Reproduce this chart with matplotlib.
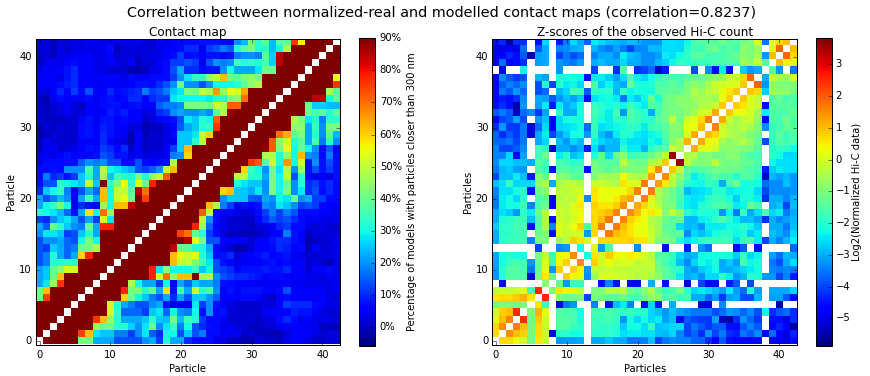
import numpy as np
import matplotlib
matplotlib.use("Agg")
import matplotlib.pyplot as plt

nan = float("nan")

# Both maps are symmetric, so only the part above the diagonal is kept.
# Row r holds the cells of columns r+1 to 42.
contactRows = [
    [90]*5 + [42,42,22,22,22,14,14,14,14,20,22,12,32,22,22,10] + [8,7,7,3,3,0,0,-2,-1,2,1,1,0,3,5,5,3,0,1,2,3],
    [90]*4 + [75,62,28,25,25,18,18,12,20,28,15,10,30,30,14,25] + [14,18,7,7,4,4,4,0,2,0,0,-1,-1,2,6,6,5,3,1,2,2],
    [90]*5 + [46,40,40,32,32,26,20,28,40,20,28,34,18,30] + [14,10,8,7,3,4,2,2,0,0,1,1,4,6,5,5,4,4,0,0,-1],
    [90]*4 + [76,62,45,32,22,22,22,25,33,25,24,42,24,34] + [32,12,7,7,6,1,1,1,2,0,2,3,7,10,7,3,5,3,3,3,2],
    [90]*5 + [52,33,16,16,16,12,25,28,16,30,20,18] + [30,8,20,7,8,2,1,1,1,1,4,6,5,5,9,8,8,5,3,1,1],
    [90]*4 + [52,32,22,18,14,14,20,22,8,3,4,6] + [28,12,20,8,6,3,1,1,1,1,2,2,6,12,10,10,10,7,4,3,3],
    [90]*5 + [60,40,30,25,18,14,22,10,22,14] + [25,25,20,15,6,6,5,7,7,6,2,0,6,7,5,6,5,4,5,3,2],
    [90]*4 + [78,42,42,32,40,22,58,8,35,22] + [50,32,36,20,6,8,6,8,8,8,6,6,7,14,6,6,5,5,5,3,4],
    [90]*4 + [48,30,22,22,12,30,4,22,16] + [25,22,22,18,8,7,6,6,5,4,4,4,4,6,4,4,3,3,3,3,4],
    [90]*6 + [78,52,70,45,62,62] + [90,46,48,20,14,12,10,10,9,8,6,7,7,6,4,5,3,3,3,4,3],
    [90]*5 + [78,28,45,30,30,30] + [34,25,30,14,12,10,6,8,8,8,9,8,8,10,6,5,1,6,6,7,4],
    [90]*7 + [62,50,50] + [42,35,28,14,8,6,3,6,6,6,7,8,6,7,4,6,1,3,1,-1,3],
    [90]*6 + [62,55,50] + [55,32,25,7,8,10,2,4,5,7,9,6,7,8,4,3,1,1,2,2,3],
    [90]*5 + [85,40,38] + [32,30,22,7,3,1,-2,-1,2,5,6,7,10,9,6,7,-1,5,2,2,3],
    [90]*6 + [85] + [55,42,14,14,6,6,6,5,2,5,6,8,10,10,8,6,-2,0,1,2,4],
    [90]*4 + [75,70] + [40,32,12,7,2,0,0,-1,-1,0,2,5,5,18,8,5,0,2,2,2,2],
    [90]*5 + [78,45,15,5,3,1,1,1,0,2,3,5,10,12,7,7,3,1,3,1,1],
    [90]*4 + [90,50,20,7,3,1,1,1,0,6,10,15,12,14,10,7,4,5,3,3,4],
    [90]*3 + [90,72,50,8,4,5,3,2,3,7,12,18,12,18,14,7,7,7,5,6,3],
    [90]*2 + [90,90,62,48,18,12,3,7,6,8,20,18,28,25,20,12,14,12,7,6,5],
    [90]*1 + [90,90,90,90,20,25,25,25,15,14,22,20,30,28,40,20,22,12,12,7,7],
    [90,90,90,90,60,62,25,25,22,28,20,42,30,42,20,28,10,14,7,10,7],
    [90]*5 + [32,28,25,25,20,42,30,40,20,32,10,12,8,10,7],
    [90]*4 + [50,50,32,32,22,42,30,50,14,32,7,3,6,3,8],
    [90]*4 + [60,34,30,20,40,28,48,20,45,8,14,8,12,8],
    [90]*4 + [76,72,38,52,32,66,30,50,8,20,8,14,8],
    [90]*5 + [48,48,32,45,30,62,20,18,7,18,7],
    [90]*4 + [88,72,42,55,30,40,30,20,8,15,6],
    [90]*4 + [72,44,52,32,38,22,36,18,32,20],
    [90]*4 + [70,64,38,42,22,32,20,38,24],
    [90]*5 + [44,44,22,34,20,42,42],
    [90]*4 + [48,42,28,32,18,32,32],
    [90]*5 + [40,36,38,32,38],
    [90]*4 + [40,26,26,24,24],
    [90]*4 + [85,85,30,38],
    [90]*5 + [48,38],
    [90]*5 + [76],
    [90]*4 + [55],
    [90]*4,
    [90]*3,
    [90]*2,
    [90],
]

zscoreRows = [
    [.7,.7,.2,-.1,-1.2,.6,-.2,nan,-3.2,-3.1,-3.1,-3,nan,-3,-3,-2.7,-3,-3,-3.5,-3.5,-3.4] + [-2.8,-4,-3.5,-3.3,-3.4,-3.4,-3.7,-3.7,-4.2,-4.7,-3.8,-4.5,-4.6,-4.6,-4.6,-4.6,nan,-5,-4.7,-5,-4.5],
    [1.5,1,.8,-1,.7,-.1,-4.6,-2,-2,-2.2,-2.2,nan,-2,-2,-1.9,-2.1,-2.5,-2.4,-2.4,-2.5] + [-2.5,-2.8,-2.9,-2.6,-3.4,-4,-3.7,-4.2,-3.2,-4,-3.5,-4.2,-4.4,-3.5,-3.8,-3.3,-4.8,-3.6,-4.8,-5,-4.3],
    [1.6,1,-1.1,.7,-.2,nan,-1.5,-1.5,-1.8,-2,nan,-1.8,-1.9,-1.9,-2,-2.7,-2.2,-2.2,-2.5] + [-1.8,-2.8,-2.7,-2.6,-2.6,-4,-3.5,-3.8,-4.1,-3.8,-3.8,-4.5,-4.5,-3.8,-3.4,-3.8,nan,-4.7,-4.3,-4.7,-5.6],
    [2.5,-1.2,.9,-.1,nan,-1.5,-1.5,-1.6,-2.2,nan,-1.8,-1.8,-1.7,-1.8,-3.2,-2.2,-2.6,-2.2] + [-2.6,-2.4,-3.1,-2.8,-4.7,-3.8,-4,-4.1,-4.1,-3.1,-5.3,-5.5,-4.2,-3.2,-3.7,-4.1,nan,-4.5,-4.5,-5,-4.2],
    [-1,1.1,.2,nan,-1.5,-1.6,-1.7,-2.2,nan,-1.7,-1.7,-1.6,-1.8,-1.9,-1.8,-2,-2] + [-2.6,-2.8,-3.2,-2.8,-3.1,-3.3,-3.5,-3.5,-3.5,-3.9,-3.6,-3.2,-3.3,-3.7,-3.3,-3.9,-2.3,-4.2,-3.8,-3.6,-4.2],
    [.6,-1.8,nan,-5,-3.5,-3.2,nan,nan,-3.4,nan,-4.5,-2.8,-2.4,-3.4,nan,-4.5] + [-2.6,-4.4,nan,-3,nan,nan,nan,-5,-5,nan,-3.3,nan,nan,nan,nan,nan,nan,nan,-5.5,nan,nan],
    [2.5,nan,-1,-1.2,-1.2,-1,-4,-1,-1.2,-1.4,-1.5,-1.2,-1.6,-1.6,-1.2] + [-.8,-.9,-1.6,-1.4,-1.8,-1.7,-3,-3,-3.6,-3.2,-4.1,-3.1,-3,-3.9,-3.9,-2.9,nan,-3.1,-3.1,-3.8,-4.5],
    [-.9,.6,.2,.1,-.2,nan,-1,-1,-.4,-.4,-.3,-1.2,-1.4,-.9] + [-.4,-1.3,-1.8,-1.7,-1.1,-2,-2.6,-2.4,-2.6,-2.8,-3.1,-2.4,-3.1,-3.6,-2.1,-3.1,nan,-3,-3,-3,-2.6],
    [-1.3,-3.2,-1.8,-1.8,nan,nan,-4.5,-3.4,-4.5,nan,-4.6,-4.6,nan] + [-3,nan,-4.5,nan,nan,-5.2,nan,-4,-4.6,-4.6,nan,-4.4,-3.8,nan,-4,nan,nan,nan,nan,nan,nan],
    [.8,.4,.2,-3.3,-.7,.1,.1,0,-.1,-.2,-.4,-.2] + [-.5,-.8,-1.4,-1.6,-2.4,-3,-2.8,-3.2,-2.6,-2.6,-2,-2.4,-3.2,-2.9,-2,-2.1,-3.2,-3.2,-4,-3.4,-4.4],
    [.8,.4,-3.2,-.2,-.2,-.1,-.2,-.2,-.3,-.2,-.3] + [-.2,-1,-1.4,-1.8,-2,-3,-3.2,-2.7,-2.5,-2.2,-3,-3,-2.8,-2.6,-2.4,-2.2,nan,-3.4,-3.5,-3.3,-3.5],
    [1.5,nan,.8,0,.3,0,.1,.1,-.3,-.1] + [-.2,-1.3,-1.7,-2,-2.8,-3.3,-2.6,-2.2,-2.4,-2.1,-3,-2.7,-3.1,-1.7,-2.3,-2.1,nan,-3.5,-3.9,-3,-2.5],
    [-2.2,.6,0,.8,.4,.2,.5,.4,0] + [-.4,-1.5,-1.5,-1.9,-2.6,-3,-2.9,-2.2,-2.2,-2.2,-2.1,-2.2,-2.7,-1.8,-2.6,-2.3,nan,-3.1,-3.6,-2.9,-3],
    [.1,-3.2,-1.6,nan,nan,nan,-3.3,nan] + [nan,nan,-4.5,nan,nan,-4.4,nan,-3.2,-3.6,nan,nan,nan,-4.5,-3.8,nan,-4.5,nan,nan,nan,nan,-3.7],
    [.7,.7,.7,.7,.8,.6,.6] + [-.1,-1,-1,-1.1,-2.1,-2.5,-2.3,-1.9,-1.8,-1.8,-1.7,-1.8,-2.5,-1.8,-1.6,-2.4,-4,-3,-3.4,-2.9,-2.4],
    [1.7,1,.8,.6,.3,.3] + [-.1,-.6,-1.2,-1.4,-1.3,-3.3,-2.6,-2.8,-2.5,-2.2,-2,-2,-2.3,-2.1,-2.7,-2.4,nan,-2.8,-3,-3.3,-2.6],
    [1.7,1,.6,.3,.3] + [-.3,-.6,-1.4,-1.4,-2.6,-2.9,-2.8,-3.2,-2.4,-2.4,-2.4,-2.2,-2.2,-2,-2.3,-2.7,nan,-3,-3,-3.5,-2.8],
    [1.6,.8,.5,.3] + [-.4,-.6,-1.2,-1.4,-1.2,-2.9,-2.9,-2.4,-2.3,-1.9,-1.6,-2,-2.4,-2.9,-2.8,-3.1,-4.2,-3,-3.3,-3.1,-2.9],
    [1.5,1,.3] + [.6,.3,-.9,-.2,-.8,-1.9,-2.3,-2,-2.1,-2.1,-3.2,-2.3,-3.5,-1.8,-3,-2.5,-1.5,-2.6,-2.4,-3.5,-3],
    [1.2,.7] + [.1,-.3,-1,-1,-1.8,-2.4,-2.5,-2.1,-1.9,-1.6,-1.5,-1.7,-2.4,-2.3,-1.2,-1.7,nan,-3,-2.8,-4,-2.8],
    [1.6] + [.1,-.5,-1,-1.2,-1.7,-2.4,-2.5,-2.4,-2,-1.8,-1.8,-2.2,-2.7,-2.1,-2.1,-2.4,-4.2,-3,-3,-3.4,-2.9],
    [1.7,-.4,-.9,-1.2,-1.6,-2.9,-2.6,-2.5,-2.4,-2,-2,-2.4,-2.3,-2.2,-2.2,-2.6,-4,-3.3,-3.3,-3.3,-3.2],
    [1.3,.5,-.4,-1.2,-2,-2.2,-2.3,-1.8,-2,-3,-1.6,-1.2,-2.2,-2.1,-2.2,-3.6,-3.3,-3.3,-2.8,-3.2],
    [1.5,-.2,-.8,-1.6,-2.4,-2.1,-1.7,-1.4,-1.7,-1.6,-2.1,-1.5,-1.5,-2,-5.2,-2.9,-3.1,-2.9,-3.2],
    [.9,-.2,-1.4,-1.7,-1.5,-1.4,-1.2,-1.1,-1.2,-1.2,-1.4,-1.6,-1.7,-4.4,-2.7,-2.4,-2.5,-2.5],
    [3.6,-.2,-.9,-1,-.9,-.3,-1,-1.1,-1,-1.3,-1.3,-1.6,nan,-2.3,-2.5,-2.5,-2.5],
    [-.4,-.4,-1,-.9,-1.1,-1.1,-.9,-.9,-1.3,-1.6,-1.7,nan,-1.9,-2.2,-2.6,-2.6],
    [1.1,.1,.2,0,-.9,-.8,-.9,-1,-1,-1.5,nan,-2,-1.9,-2,-2.3],
    [1.2,.3,.2,-.5,-.8,-.6,-.4,-.8,-1.3,-3.9,-1.8,-1.5,-1.7,-1.6],
    [1,.7,0,-.4,-.5,-.7,-1,-1.2,nan,-1.8,-1.4,-1.8,-1.5],
    [1.6,0,-.4,-.5,-.3,-.5,-1,-3.3,-1.8,-1.7,-1.3,-1.4],
    [1.2,-.1,-.6,-.2,-.1,-.8,-4.6,-1.6,-1.7,-1.2,-1.5],
    [.9,.3,.2,0,-.6,-2.4,-1.6,-1.6,-1.6,-1.2],
    [.8,.6,.1,-.1,-4.5,-1.5,-1.5,-1.4,-1.5],
    [.9,.1,-.2,nan,-1.5,-1.3,-1.7,-1.5],
    [.9,.7,-2.7,-.6,-.8,-.8,-1.1],
    [1.9,-3.2,-.8,-1,-1,-1],
    [-3,-.1,-.5,-.7,.1],
    [-1.4,-3.2,nan,-3.5],
    [1,.2,.1],
    [1.9,.7],
    [1],
]

axisTicks = [0, 10, 20, 30, 40]
contactTicks = [0, 10, 20, 30, 40, 50, 60, 70, 80, 90]
zscoreTicks = [-5, -4, -3, -2, -1, 0, 1, 2, 3]


def buildMatrix(rows):
    # Fills both sides from the upper rows, diagonal stays empty
    size = len(rows) + 1
    matrix = np.full((size, size), np.nan)
    for r, row in enumerate(rows):
        matrix[r, r + 1:] = row
        matrix[r + 1:, r] = row
    return matrix


def pxAxes(fig, x0, y0, x1, y1):
    # Axes box given in picture pixels, y going down
    w, h = fig.get_size_inches() * fig.dpi
    return fig.add_axes([x0 / w, 1 - y1 / h, (x1 - x0) / w, (y1 - y0) / h])


plt.style.use("classic")
plt.rcParams["font.family"] = "DejaVu Sans"

fig = plt.figure(figsize=(870 / 72, 376 / 72), dpi=72, facecolor="white")
fig.suptitle("Correlation bettween normalized-real and modelled contact maps (correlation=0.8237)",
             fontsize=14.4, x=0.507, y=0.983)

# Left map
ax = pxAxes(fig, 36, 39.3, 340, 344.5)
im = ax.imshow(buildMatrix(contactRows), origin="lower", interpolation="nearest", cmap="jet",
               vmin=-5.8, vmax=90, aspect="auto")
ax.set_xticks(axisTicks)
ax.set_yticks(axisTicks)
ax.tick_params(labelsize=10)
ax.tick_params(axis="x", pad=5)
ax.set_title("Contact map", fontsize=12, pad=3)
ax.set_xlabel("Particle", fontsize=10, labelpad=4)
ax.set_ylabel("Particle", fontsize=10, labelpad=3)

cax = pxAxes(fig, 359.3, 38.3, 374.7, 345.7)
cb = fig.colorbar(im, cax=cax, ticks=contactTicks, format="%d%%")
cb.ax.tick_params(labelsize=10, pad=5)
cb.set_label("Percentage of models with particles closer than 300 nm", fontsize=10, labelpad=5)

# Right map
ax2 = pxAxes(fig, 492.3, 39.3, 797, 344.5)
im2 = ax2.imshow(buildMatrix(zscoreRows), origin="lower", interpolation="nearest", cmap="jet",
                 vmin=-5.86, vmax=3.82, aspect="auto")
ax2.set_xticks(axisTicks)
ax2.set_yticks(axisTicks)
ax2.tick_params(labelsize=10)
ax2.tick_params(axis="x", pad=5)
ax2.set_title("Z-scores of the observed Hi-C count", fontsize=12, pad=3)
ax2.set_xlabel("Particles", fontsize=10, labelpad=4)
ax2.set_ylabel("Particles", fontsize=10, labelpad=3)

cax2 = pxAxes(fig, 816.3, 38.3, 831.7, 345.7)
cb2 = fig.colorbar(im2, cax=cax2, ticks=zscoreTicks)
cb2.ax.tick_params(labelsize=10)
cb2.set_label("Log2(Normalized Hi-C data)", fontsize=10, labelpad=2)

fig.savefig("out.png", dpi=72, facecolor="white")
plt.close()
